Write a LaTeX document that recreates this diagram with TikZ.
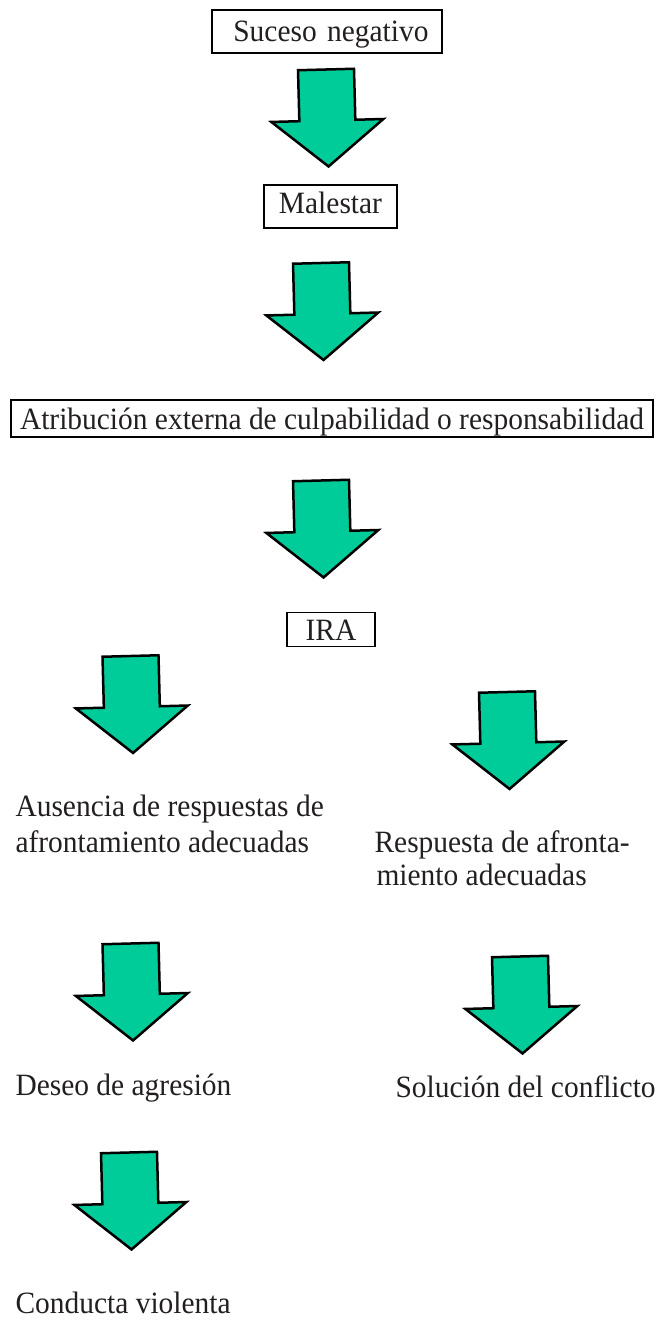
\documentclass[tikz,border=0pt]{standalone}
\usepackage{fontspec}
\setmainfont{Liberation Serif}[FakeStretch=0.95]
\definecolor{verde}{RGB}{0,204,153}
\definecolor{texto}{RGB}{35,31,32}

\begin{document}
\begin{tikzpicture}[x=1pt, y=-1pt,
    every node/.style={font=\fontsize{31}{35.7}\selectfont, text=texto},
    caja/.style={draw=black, line width=1.8pt, inner sep=0pt, text height=21pt, text depth=0pt},
    flecha/.style={fill=verde, draw=black, line width=2.5pt}]
    \useasboundingbox (0,0) rectangle (655,1322);

    % Boxed steps
    \node[caja, anchor=base, minimum width=230pt, minimum height=43pt,
        text width=203pt, inner xsep=13.5pt, align=right] (suceso) at (327,42) {Suceso negativo};
    \node[caja, anchor=base, minimum width=133pt, minimum height=43pt,
        text depth=8pt] (malestar) at (330.5,213) {Malestar};
    \node[caja, anchor=base, minimum width=642pt, minimum height=37pt] (atribucion) at (332,429)
        {Atribución externa de culpabilidad o responsabilidad};
    \node[caja, anchor=base, minimum width=88pt, minimum height=34pt] (ira) at (331,640) {IRA};

    % Left branch (base = last line)
    \node[anchor=base west, align=left] (ausencia) at (12,852)
        {Ausencia de respuestas de\\afrontamiento adecuadas};
    \node[anchor=base west] (deseo) at (12,1095) {Deseo de agresión};
    \node[anchor=base west] (conducta) at (12,1313) {Conducta violenta};

    % Right branch
    \node[anchor=base west, align=left] (respuesta) at (371,885)
        {Respuesta de afronta-\\[-2.7pt]\hspace*{2pt}miento adecuadas};
    \node[anchor=base west] (solucion) at (392,1097) {Solución del conflicto};

    % Green block arrows (top centre of the shaft)
    \foreach \ax/\ay in {326/69.5, 321/263, 321/480.5, 130.5/656, 507/692,
                         130.5/943.5, 520/956.5, 129/1152.5}
        \draw[flecha, shift={(\ax,\ay)}, rotate=1.5]
            (-28,0) -- (28,0) -- (28,51) -- (56,51) -- (0,97) -- (-56,51) -- (-28,51) -- cycle;
\end{tikzpicture}
\end{document}
